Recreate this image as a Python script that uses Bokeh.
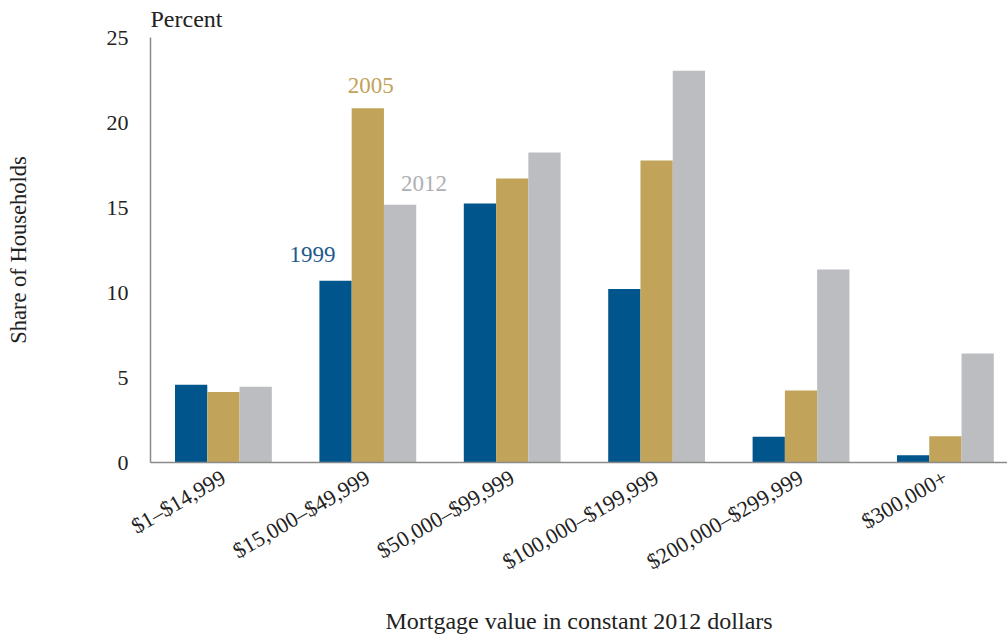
import math
from bokeh.plotting import figure
from bokeh.models import Range1d, FixedTicker, Label
from bokeh.embed import file_html
from bokeh.resources import INLINE

categories = ["$1–$14,999", "$15,000–$49,999", "$50,000–$99,999",
              "$100,000–$199,999", "$200,000–$299,999", "$300,000+"]
years = ["1999", "2005", "2012"]
v1999 = [4.57, 10.69, 15.24, 10.20, 1.51, 0.43]
v2005 = [4.14, 20.84, 16.71, 17.76, 4.24, 1.55]
v2012 = [4.45, 15.16, 18.24, 23.04, 11.35, 6.41]
y_ticks = [0, 5, 10, 15, 20, 25]

colors = ["#00558c", "#c2a35a", "#bcbdc0"]
label_colors = ["#1d5a8c", "#c2a35a", "#aeafb2"]
FONT = "Liberation Serif"

p = figure(width=1007, height=639, output_backend="svg", toolbar_location=None,
           x_range=Range1d(-0.505, 5.43), y_range=Range1d(0, 25),
           min_border_left=150, min_border_right=0, min_border_top=37,
           min_border_bottom=177, title="Percent")

bw = 0.2235
xs = list(range(len(categories)))
series = [v1999, v2005, v2012]
for i, vals in enumerate(series):
    off = (i - 1) * bw
    p.vbar(x=[x + off for x in xs], top=vals, width=bw, bottom=0,
           fill_color=colors[i], line_color=None)

# series labels
p.add_layout(Label(x=1 - bw, y=v1999[1], text=years[0], text_align="right",
                   text_baseline="alphabetic", y_offset=26,
                   text_font=FONT, text_font_size="23px", text_color=label_colors[0]))
p.add_layout(Label(x=1, y=v2005[1], text=years[1], text_align="center",
                   text_baseline="alphabetic", y_offset=23, x_offset=3,
                   text_font=FONT, text_font_size="23px", text_color=label_colors[1]))
p.add_layout(Label(x=1 + bw, y=v2012[1], text=years[2], text_align="left",
                   text_baseline="alphabetic", y_offset=21, x_offset=1,
                   text_font=FONT, text_font_size="23px", text_color=label_colors[2]))

p.title.text_font = FONT
p.title.text_font_size = "24px"
p.title.text_font_style = "normal"
p.title.text_color = "#222222"
p.title.align = "left"
p.title.vertical_align = "top"
p.title.standoff = 8

p.xgrid.visible = False
p.ygrid.visible = False
p.outline_line_color = None

xa = p.xaxis[0]
xa.ticker = FixedTicker(ticks=xs)
xa.major_label_overrides = {i: c for i, c in enumerate(categories)}
xa.major_label_orientation = math.pi / 6
xa.major_tick_line_color = None
xa.minor_tick_line_color = None
xa.axis_line_color = "#8a8a8a"
xa.axis_line_width = 1.5
xa.major_label_text_font = FONT
xa.major_label_text_font_size = "22px"
xa.major_label_text_color = "#222222"
xa.major_label_standoff = 7
xa.axis_label = "Mortgage value in constant 2012 dollars"
xa.axis_label_text_font = FONT
xa.axis_label_text_font_size = "24px"
xa.axis_label_text_font_style = "normal"
xa.axis_label_text_color = "#222222"
xa.axis_label_standoff = 20

ya = p.yaxis[0]
ya.ticker = FixedTicker(ticks=y_ticks)
ya.major_tick_line_color = None
ya.minor_tick_line_color = None
ya.axis_line_color = "#8a8a8a"
ya.axis_line_width = 1.5
ya.major_label_text_font = FONT
ya.major_label_text_font_size = "22px"
ya.major_label_text_color = "#222222"
ya.major_label_standoff = 16
ya.axis_label = "Share of Households"
ya.axis_label_text_font = FONT
ya.axis_label_text_font_size = "22.5px"
ya.axis_label_text_font_style = "normal"
ya.axis_label_text_color = "#222222"
ya.axis_label_standoff = 73

open("out.html", "w").write(file_html(p, INLINE))
